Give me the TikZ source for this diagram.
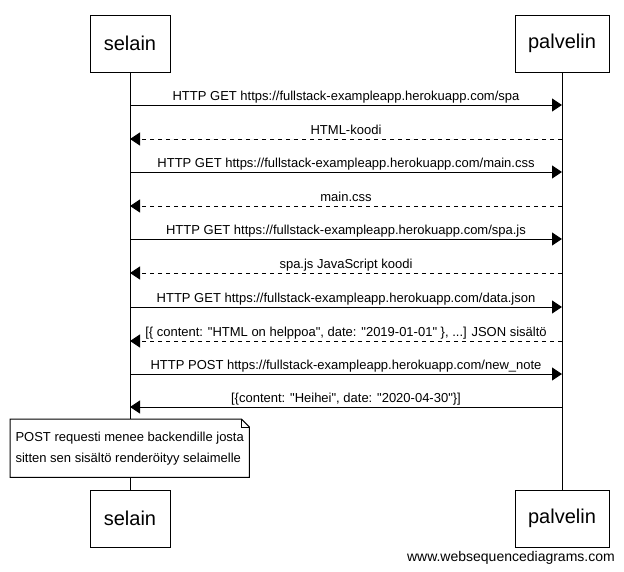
\documentclass[tikz,border=0pt]{standalone}
\usepackage{fontspec}
\setmainfont{Liberation Sans}[Ligatures=TeXOff]
\usetikzlibrary{arrows.meta}
\begin{document}
\begin{tikzpicture}[x=1pt,y=-1pt,
  actor/.style={draw, line width=1pt, minimum height=57pt, inner sep=0pt, fill=white, font=\fontsize{20}{24}\selectfont},
  msg/.style={line width=1pt, -{Triangle[length=10pt,width=13pt]}},
  reply/.style={msg, dash pattern=on 4pt off 4pt},
  lbl/.style={font=\fontsize{13}{15}\selectfont, anchor=base, yshift=5pt, inner sep=0pt},
  notebox/.style={fill=white, minimum width=239pt, minimum height=58pt, inner sep=0pt, align=left, font=\fontsize{13}{21}\selectfont}
]
\useasboundingbox (0,0) rectangle (624,571);
\fill[white] (0,0) rectangle (624,571);

% actors
\node[actor, minimum width=80pt] (st) at (130,43.5) {selain};
\node[actor, minimum width=94pt] (pt) at (562,43.5) {palvelin};
\node[actor, minimum width=80pt] (sb) at (130,518.5) {selain};
\node[actor, minimum width=94pt] (pb) at (562,518.5) {palvelin};

% lifelines
\draw[line width=1pt] (st.south) -- (sb.north);
\draw[line width=1pt] (pt.south) -- (pb.north);

% message anchor points
\foreach \i/\y in {1/105,2/139,3/172,4/206,5/239,6/273,7/307,8/341,9/374,10/407}{
  \coordinate (s\i) at (130,\y);
  \coordinate (p\i) at (562,\y);
}

\draw[msg] (s1) -- (p1) node[lbl, midway] {HTTP GET https://fullstack-exampleapp.herokuapp.com/spa};
\draw[reply] (p2) -- (s2) node[lbl, midway] {HTML-koodi};
\draw[msg] (s3) -- (p3) node[lbl, midway] {HTTP GET https://fullstack-exampleapp.herokuapp.com/main.css};
\draw[reply] (p4) -- (s4) node[lbl, midway] {main.css};
\draw[msg] (s5) -- (p5) node[lbl, midway] {HTTP GET https://fullstack-exampleapp.herokuapp.com/spa.js};
\draw[reply] (p6) -- (s6) node[lbl, midway] {spa.js JavaScript koodi};
\draw[msg] (s7) -- (p7) node[lbl, midway] {HTTP GET https://fullstack-exampleapp.herokuapp.com/data.json};
\draw[reply] (p8) -- (s8) node[lbl, midway] {[\{ content: "HTML on helppoa", date: "2019-01-01" \}, ...] JSON sisältö};
\draw[msg] (s9) -- (p9) node[lbl, midway] {HTTP POST https://fullstack-exampleapp.herokuapp.com/new\_note};
\draw[msg] (p10) -- (s10) node[lbl, midway] {[\{content: "Heihei", date: "2020-04-30"\}]};

% note
\node[notebox, anchor=north west] (note) at (10,419) {POST requesti menee backendille josta\\sitten sen sisältö renderöityy selaimelle};
\draw[line width=1pt] (note.north west) -- ([xshift=-8pt]note.north east) -- ([yshift=-8pt]note.north east) -- (note.south east) -- (note.south west) -- cycle;
\draw[line width=1pt] ([xshift=-8pt]note.north east) -- ([xshift=-8pt,yshift=-8pt]note.north east) -- ([yshift=-8pt]note.north east);

% watermark
\node[font=\fontsize{14}{16}\selectfont, anchor=base east, inner sep=0pt] (wsd) at (615,561) {www.websequencediagrams.com};
\end{tikzpicture}
\end{document}
